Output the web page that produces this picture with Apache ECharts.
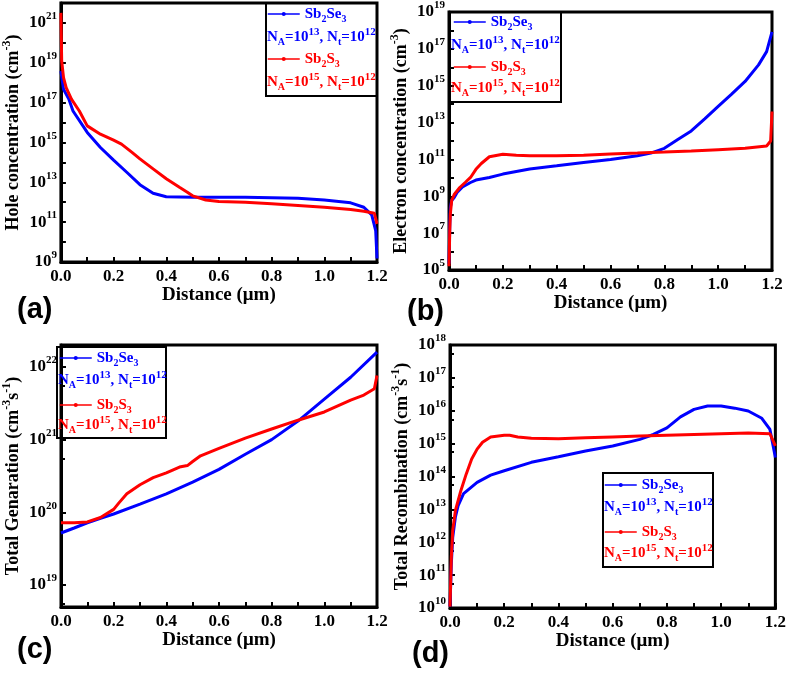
<!DOCTYPE html>
<html><head><meta charset="utf-8">
<script src="https://cdn.jsdelivr.net/npm/echarts@6/dist/echarts.min.js"></script>
<style>html,body{margin:0;padding:0;background:#fff}#c{width:789px;height:673px}</style>
</head><body><div id="c"></div><script>
// ---------- data ----------
// (a) Hole concentration (cm^-3)
const distHoleSe = [0, 0.01, 0.03, 0.046, 0.1, 0.15, 0.2, 0.25, 0.3, 0.35, 0.4, 0.5, 0.6, 0.7, 0.8, 0.9, 1.0, 1.1, 1.15, 1.18, 1.195, 1.2];
const holeSe = [3.8e18, 4.7e17, 1.5e17, 3.8e16, 3.2e15, 5.6e14, 1.3e14, 3.2e13, 7.6e12, 2.8e12, 1.9e12, 1.8e12, 1.8e12, 1.8e12, 1.7e12, 1.6e12, 1.3e12, 9.3e11, 5.6e11, 2.3e11, 3.8e10, 1.5e9];
const distHoleS = [0, 0.003, 0.01, 0.02, 0.04, 0.07, 0.1, 0.15, 0.2, 0.23, 0.27, 0.3, 0.35, 0.4, 0.45, 0.48, 0.5, 0.55, 0.6, 0.7, 0.8, 0.9, 1.0, 1.1, 1.15, 1.19, 1.2];
const holeS = [3.2e21, 1.2e19, 1.8e18, 5.6e17, 1.5e17, 3.8e16, 6.8e15, 2.6e15, 1.3e15, 8.3e14, 3.2e14, 1.5e14, 4.7e13, 1.5e13, 5.6e12, 3.2e12, 2.1e12, 1.3e12, 1.1e12, 1.0e12, 8.3e11, 6.8e11, 5.6e11, 4.3e11, 3.5e11, 2.8e11, 8.3e10];
// (b) Electron concentration (cm^-3)
const distElecSe = [0, 0.003, 0.005, 0.01, 0.02, 0.03, 0.05, 0.08, 0.1, 0.15, 0.2, 0.3, 0.4, 0.5, 0.6, 0.7, 0.75, 0.8, 0.85, 0.9, 0.95, 1.0, 1.05, 1.1, 1.15, 1.18, 1.2];
const elecSe = [2.2e5, 3.2e7, 2.5e8, 5.9e8, 8.9e8, 1.6e9, 3.2e9, 5.6e9, 7.6e9, 1.05e10, 1.6e10, 3.0e10, 4.5e10, 6.8e10, 1.0e11, 1.6e11, 2.2e11, 4.0e11, 1.2e12, 3.5e12, 1.6e13, 7.6e13, 3.5e14, 1.7e15, 1.35e16, 7.1e16, 8.3e17];
const distElecS = [0, 0.003, 0.005, 0.01, 0.02, 0.04, 0.06, 0.08, 0.1, 0.12, 0.15, 0.2, 0.25, 0.3, 0.4, 0.5, 0.6, 0.7, 0.8, 0.9, 1.0, 1.1, 1.18, 1.195, 1.2];
const elecS = [1.6e5, 1.6e7, 1.1e8, 5.9e8, 1.3e9, 3.0e9, 5.6e9, 1.05e10, 2.9e10, 6.0e10, 1.4e11, 1.9e11, 1.7e11, 1.6e11, 1.6e11, 1.7e11, 2.0e11, 2.2e11, 2.5e11, 2.9e11, 3.4e11, 4.0e11, 5.4e11, 1.0e12, 4.0e13];
// (c) Total Generation (cm^-3 s^-1)
const distGenSe = [0, 0.05, 0.1, 0.15, 0.2, 0.3, 0.4, 0.5, 0.6, 0.7, 0.8, 0.9, 1.0, 1.1, 1.2];
const genSe = [5.2e19, 6.1e19, 7.2e19, 8.3e19, 9.5e19, 1.3e20, 1.8e20, 2.6e20, 3.9e20, 6.3e20, 1.0e21, 1.8e21, 3.6e21, 7.2e21, 1.6e22];
const distGenS = [0, 0.05, 0.1, 0.15, 0.2, 0.22, 0.25, 0.3, 0.35, 0.4, 0.45, 0.48, 0.5, 0.53, 0.6, 0.7, 0.8, 0.9, 1.0, 1.1, 1.15, 1.19, 1.2];
const genS = [7.2e19, 7.2e19, 7.4e19, 8.5e19, 1.1e20, 1.35e20, 1.8e20, 2.4e20, 3.0e20, 3.5e20, 4.2e20, 4.4e20, 5.0e20, 6.0e20, 7.6e20, 1.05e21, 1.4e21, 1.85e21, 2.4e21, 3.5e21, 4.1e21, 5.0e21, 7.6e21];
// (d) Total Recombination (cm^-3 s^-1)
const distRecSe = [0, 0.005, 0.01, 0.02, 0.03, 0.05, 0.1, 0.15, 0.2, 0.3, 0.4, 0.5, 0.6, 0.7, 0.75, 0.8, 0.85, 0.9, 0.95, 1.0, 1.05, 1.1, 1.15, 1.18, 1.2];
const recSe = [1.1e10, 2.3e11, 1.4e12, 5.9e12, 1.3e13, 3.0e13, 6.6e13, 1.1e14, 1.5e14, 2.7e14, 4.0e14, 6.0e14, 8.5e14, 1.35e15, 1.9e15, 3.0e15, 6.5e15, 1.1e16, 1.4e16, 1.4e16, 1.2e16, 9.8e15, 5.9e15, 2.7e15, 3.8e14];
const distRecS = [0, 0.005, 0.01, 0.02, 0.04, 0.06, 0.08, 0.1, 0.12, 0.15, 0.2, 0.22, 0.25, 0.3, 0.4, 0.5, 0.6, 0.7, 0.8, 0.9, 1.0, 1.1, 1.18, 1.2];
const recS = [1.1e10, 3.6e11, 2.3e12, 9.3e12, 3.7e13, 1.2e14, 3.4e14, 6.8e14, 1.1e15, 1.6e15, 1.8e15, 1.8e15, 1.6e15, 1.45e15, 1.4e15, 1.5e15, 1.6e15, 1.7e15, 1.8e15, 1.9e15, 2.0e15, 2.1e15, 2.0e15, 8.5e14];

// tick values
const xTicks = [0, 0.2, 0.4, 0.6, 0.8, 1.0, 1.2];
const yLabelsA = [1e9, 1e11, 1e13, 1e15, 1e17, 1e19, 1e21];
const yTicksA = [1e9, 1e10, 1e11, 1e12, 1e13, 1e14, 1e15, 1e16, 1e17, 1e18, 1e19, 1e20, 1e21, 1e22];
const yLabelsB = [1e5, 1e7, 1e9, 1e11, 1e13, 1e15, 1e17, 1e19];
const yTicksB = [1e5, 1e6, 1e7, 1e8, 1e9, 1e10, 1e11, 1e12, 1e13, 1e14, 1e15, 1e16, 1e17, 1e18, 1e19];
const yLabelsC = [1e19, 1e20, 1e21, 1e22];
const yLabelsD = [1e10, 1e11, 1e12, 1e13, 1e14, 1e15, 1e16, 1e17, 1e18];

const seriesNames = ['Sb2Se3', 'Sb2S3'];
const legendNA = ['N{sb|A}=10{sp|13}, N{sb|t}=10{sp|12}', 'N{sb|A}=10{sp|15}, N{sb|t}=10{sp|12}'];
const panelLetters = ['(a)', '(b)', '(c)', '(d)'];
const yNames = [
  'Hole concentration (cm{sp|-3})',
  'Electron concentration (cm{sp|-3})',
  'Total Genaration (cm{sp|-3}s{sp|-1})',
  'Total Recombination (cm{sp|-3}s{sp|-1})'
];

// ---------- styling ----------
const F = 'Liberation Serif';
const BLUE = '#0000ff', RED = '#ff0000';
const zip = (xs, ys) => xs.map((x, i) => [x, ys[i]]);

const grids = [
  {left: 54, top: 3, width: 323, height: 259},
  {left: 449, top: 11, width: 323, height: 259},
  {left: 55, top: 345, width: 322, height: 262},
  {left: 450, top: 345, width: 328, height: 263}
];
const yRanges = [[1e9, 1e22], [1e5, 1.001e19], [5e18, 2e22], [1e10, 1.001e18]];
const yLabelSets = [yLabelsA, yLabelsB, yLabelsC, yLabelsD];
const yTickSets = [yTicksA, yTicksB, null, null];
const xNameGap = [22, 22, 21, 23];
const yNameGap = [34, 34, 36, 36];

function expLabel(v) {
  const e = Math.log10(v);
  const r = Math.round(e);
  if (Math.abs(e - r) > 1e-6) return '';
  return '{b|10}{p|' + r + '}';
}

const xAxes = grids.map((g, i) => ({
  gridIndex: i, type: 'value', min: 0, max: 1.2, interval: 0.2,
  axisLine: {lineStyle: {color: '#000', width: 3}},
  axisTick: {inside: true, length: 5, lineStyle: {color: '#000', width: 2}},
  minorTick: {show: true, splitNumber: 2, length: 5, lineStyle: {color: '#000', width: 2}},
  splitLine: {show: false},
  axisLabel: {customValues: xTicks, formatter: v => v.toFixed(1), color: '#000', fontFamily: F, fontWeight: 'bold', fontSize: 17, margin: 6},
  name: 'Distance (\u03bcm)', nameLocation: 'middle', nameGap: xNameGap[i],
  nameTextStyle: {color: '#000', fontFamily: F, fontWeight: 'bold', fontSize: 19}
}));

const yAxes = grids.map((g, i) => {
  const ax = {
    gridIndex: i, type: 'log', min: yRanges[i][0], max: yRanges[i][1],
    axisLine: {lineStyle: {color: '#000', width: 3}},
    axisTick: {inside: true, length: 5, lineStyle: {color: '#000', width: 2}},
    splitLine: {show: false},
    axisLabel: {
      customValues: yLabelSets[i],
      formatter: expLabel, color: '#000', margin: 4,
      rich: {
        b: {fontFamily: F, fontWeight: 'bold', fontSize: 17, lineHeight: 24, color: '#000'},
        p: {fontFamily: F, fontWeight: 'bold', fontSize: 11, lineHeight: 11, verticalAlign: 'top', color: '#000'}
      }
    },
    name: yNames[i], nameLocation: 'middle', nameGap: yNameGap[i],
    nameTextStyle: {
      color: '#000', fontFamily: F, fontWeight: 'bold', fontSize: 18, lineHeight: 24,
      rich: {sp: {fontFamily: F, fontWeight: 'bold', fontSize: 12, lineHeight: 12, verticalAlign: 'top', color: '#000'}}
    }
  };
  if (yTickSets[i]) {
    ax.axisTick.customValues = yTickSets[i];
  } else {
    ax.axisTick.customValues = yLabelSets[i];
    ax.minorTick = {show: true, splitNumber: 2, length: 4, lineStyle: {color: '#000', width: 2}};
  }
  return ax;
});

const dataSets = [
  [zip(distHoleSe, holeSe), zip(distHoleS, holeS)],
  [zip(distElecSe, elecSe), zip(distElecS, elecS)],
  [zip(distGenSe, genSe), zip(distGenS, genS)],
  [zip(distRecSe, recSe), zip(distRecS, recS)]
];
const series = [];
dataSets.forEach((pair, i) => {
  pair.forEach((d, k) => {
    series.push({
      name: seriesNames[k], type: 'line', xAxisIndex: i, yAxisIndex: i, data: d,
      symbol: 'circle', symbolSize: 5, showSymbol: false, smooth: false,
      lineStyle: {color: k ? RED : BLUE, width: 3}, itemStyle: {color: k ? RED : BLUE},
      z: k ? 3 : 2
    });
  });
});

// legend boxes
const boxes = [
  {x: 266, y: 3, w: 111, h: 93, icon: 267, rows: [14, 37, 59, 82]},
  {x: 450, y: 12, w: 111, h: 90, icon: 453, rows: [22, 45, 67, 88]},
  {x: 57, y: 347, w: 109, h: 91, icon: 59, rows: [358, 380, 405, 425]},
  {x: 603, y: 473, w: 110, h: 94, icon: 604, rows: [485, 507, 532, 553]}
];
const legTextRich = {sb: {fontFamily: F, fontWeight: 'bold', fontSize: 10, lineHeight: 10, verticalAlign: 'bottom'}};
const legends = boxes.map(b => ({
  orient: 'vertical', left: b.icon, top: b.rows[0] - 10, padding: 0,
  itemWidth: 32, itemHeight: 5, itemGap: (b.rows[2] - b.rows[0]) - 20,
  selectedMode: false,
  lineStyle: {width: 1.5},
  textStyle: {fontFamily: F, fontWeight: 'bold', fontSize: 15, lineHeight: 20, rich: legTextRich},
  formatter: n => n === 'Sb2Se3' ? 'Sb{sb|2}Se{sb|3}' : 'Sb{sb|2}S{sb|3}',
  data: [
    {name: 'Sb2Se3', textStyle: {color: BLUE}},
    {name: 'Sb2S3', textStyle: {color: RED}}
  ]
}));

const naRich = {
  sb: {fontFamily: F, fontWeight: 'bold', fontSize: 10, lineHeight: 10, verticalAlign: 'bottom'},
  sp: {fontFamily: F, fontWeight: 'bold', fontSize: 11, lineHeight: 11, verticalAlign: 'top'}
};
const graphics = [];
boxes.forEach(b => {
  graphics.push({type: 'rect', shape: {x: b.x, y: b.y, width: b.w, height: b.h}, style: {fill: 'none', stroke: '#000', lineWidth: 2}, z: 10});
  [1, 3].forEach((r, k) => {
    graphics.push({type: 'text', x: b.x + 1, y: b.rows[r], z: 10, style: {
      text: legendNA[k], fill: k ? RED : BLUE, fontFamily: F, fontWeight: 'bold', fontSize: 15, lineHeight: 20,
      verticalAlign: 'middle', rich: naRich}});
  });
});
const letterPos = [[17, 310], [407, 312], [17, 650], [412, 654]];
letterPos.forEach((p, i) => {
  graphics.push({type: 'text', x: p[0], y: p[1], style: {text: panelLetters[i], fill: '#000',
    fontFamily: 'Liberation Sans', fontWeight: 'bold', fontSize: 29, verticalAlign: 'middle'}});
});

const chart = echarts.init(document.getElementById('c'), null, {renderer: 'canvas'});
chart.setOption({
  animation: false,
  backgroundColor: '#fff',
  grid: grids.map(g => Object.assign({show: true, borderColor: '#000', borderWidth: 3, backgroundColor: 'transparent'}, g)),
  xAxis: xAxes, yAxis: yAxes, legend: legends, series: series, graphic: graphics
});
</script></body></html>
